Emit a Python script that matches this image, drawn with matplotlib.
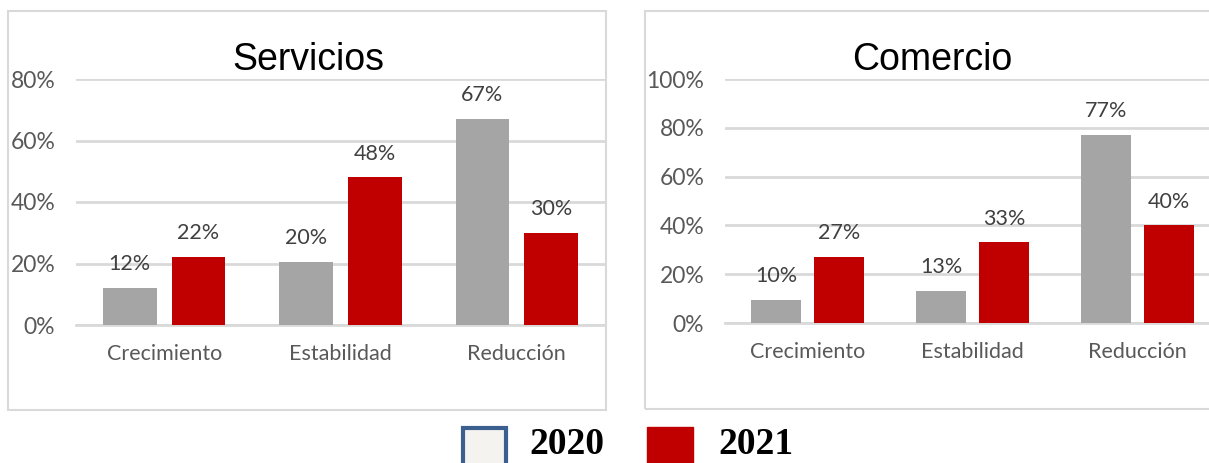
import matplotlib
matplotlib.use("Agg")
import matplotlib.pyplot as plt
from matplotlib.patches import Rectangle
import numpy as np

categories = ["Crecimiento", "Estabilidad", "Reducción"]
servicios_2020 = [0.12, 0.205, 0.67]
servicios_2021 = [0.22, 0.48, 0.30]
comercio_2020 = [0.095, 0.13, 0.77]
comercio_2021 = [0.27, 0.33, 0.40]
servicios_ticks = [0, 0.2, 0.4, 0.6, 0.8]
comercio_ticks = [0, 0.2, 0.4, 0.6, 0.8, 1.0]
legend_labels = ["2020", "2021"]

W, H = 1209, 463
fig = plt.figure(figsize=(W / 100, H / 100), dpi=100)

GREY = "#A5A5A5"
RED = "#C00000"
GRID = "#D9D9D9"
TICK = "#595959"
LABEL = "#404040"
BODY_FONT = ["Lato", "DejaVu Sans"]


def px_rect(x0, y0, x1, y1):
    return [x0 / W, 1 - y1 / H, (x1 - x0) / W, (y1 - y0) / H]


# panel borders
for (x0, y0, x1, y1) in [(8, 11, 606, 410), (645, 11, 1220, 409)]:
    fig.patches.append(Rectangle((x0 / W, 1 - y1 / H), (x1 - x0) / W, (y1 - y0) / H,
                                 transform=fig.transFigure, fill=False,
                                 edgecolor=GRID, linewidth=1.5, zorder=0))


def draw(ax, v20, v21, ticks, title, width, offset, title_x):
    x = np.arange(len(categories))
    b1 = ax.bar(x - offset, v20, width, color=GREY, zorder=3)
    b2 = ax.bar(x + offset, v21, width, color=RED, zorder=3)
    for bars, vals in ((b1, v20), (b2, v21)):
        for rect, v in zip(bars, vals):
            ax.annotate(f"{round(v * 100):.0f}%",
                        (rect.get_x() + rect.get_width() / 2, v),
                        xytext=(0, 10), textcoords="offset points",
                        ha="center", va="bottom", fontsize=15.5,
                        color=LABEL, family=BODY_FONT)
    ax.set_xlim(-0.5, len(categories) - 0.5)
    ax.set_ylim(0, ticks[-1])
    ax.set_yticks(ticks)
    ax.set_yticklabels([f"{t * 100:.0f}%" for t in ticks], fontsize=16.5,
                       color=TICK, family=BODY_FONT)
    ax.set_xticks(x)
    ax.set_xticklabels(categories, fontsize=15.5, color=TICK, family=BODY_FONT)
    ax.tick_params(axis="y", length=0, pad=15)
    ax.tick_params(axis="x", length=0, pad=14)
    for s in ("top", "right", "left"):
        ax.spines[s].set_visible(False)
    ax.spines["bottom"].set_color(GRID)
    ax.spines["bottom"].set_linewidth(2)
    ax.grid(axis="y", color=GRID, linewidth=2, zorder=0)
    ax.set_axisbelow(True)
    ax.set_facecolor("none")
    fig.text(title_x / W, 1 - 60 / H, title, ha="center", va="center",
             fontsize=27, family=["Liberation Sans", "DejaVu Sans"])


ax1 = fig.add_axes(px_rect(76, 79, 605, 325))
draw(ax1, servicios_2020, servicios_2021, servicios_ticks, "Servicios",
     0.305, 0.195, 308)

ax2 = fig.add_axes(px_rect(725, 79, 1220, 323))
draw(ax2, comercio_2020, comercio_2021, comercio_ticks, "Comercio",
     0.305, 0.19, 932)

# legend
fig.patches.append(Rectangle((463 / W, 1 - 466 / H), 43 / W, 38 / H,
                             transform=fig.transFigure, facecolor="#F5F3EF",
                             edgecolor="#3B5F8F", linewidth=3, zorder=5))
fig.patches.append(Rectangle((647 / W, 1 - 466 / H), 46 / W, 39 / H,
                             transform=fig.transFigure, facecolor=RED,
                             edgecolor=RED, linewidth=1, zorder=5))
fig.text(529 / W, 1 - 444 / H, legend_labels[0], ha="left", va="center",
         fontsize=27, fontweight="bold", family=["Liberation Serif", "DejaVu Serif"])
fig.text(718 / W, 1 - 444 / H, legend_labels[1], ha="left", va="center",
         fontsize=27, fontweight="bold", family=["Liberation Serif", "DejaVu Serif"])

fig.savefig("out.png", dpi=100)
